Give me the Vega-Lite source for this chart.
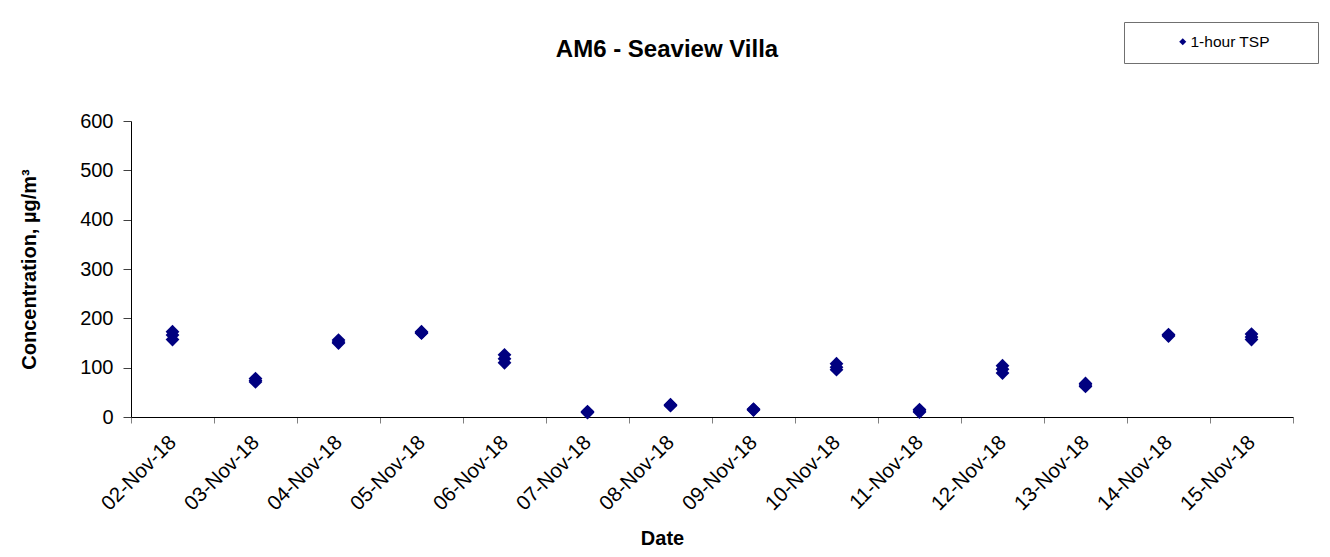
{
  "$schema": "https://vega.github.io/schema/vega-lite/v6.json",
  "autosize": {"type": "none"},
  "padding": {"left": 131, "top": 121, "right": 37, "bottom": 140},
  "width": 1162,
  "height": 296,
  "background": "white",
  "title": {
    "text": "AM6 - Seaview Villa",
    "anchor": "middle",
    "frame": "group",
    "dx": -45,
    "dy": 59,
    "baseline": "alphabetic",
    "offset": 0,
    "font": "Liberation Sans",
    "fontSize": 24,
    "fontWeight": "bold",
    "color": "#000000"
  },
  "data": {
    "values": [
      {"date": "02-Nov-18", "series": "1-hour TSP", "value": 173},
      {"date": "02-Nov-18", "series": "1-hour TSP", "value": 166},
      {"date": "02-Nov-18", "series": "1-hour TSP", "value": 157},
      {"date": "03-Nov-18", "series": "1-hour TSP", "value": 78},
      {"date": "03-Nov-18", "series": "1-hour TSP", "value": 74},
      {"date": "03-Nov-18", "series": "1-hour TSP", "value": 71},
      {"date": "04-Nov-18", "series": "1-hour TSP", "value": 156},
      {"date": "04-Nov-18", "series": "1-hour TSP", "value": 152},
      {"date": "04-Nov-18", "series": "1-hour TSP", "value": 150},
      {"date": "05-Nov-18", "series": "1-hour TSP", "value": 173},
      {"date": "05-Nov-18", "series": "1-hour TSP", "value": 171},
      {"date": "05-Nov-18", "series": "1-hour TSP", "value": 170},
      {"date": "06-Nov-18", "series": "1-hour TSP", "value": 126},
      {"date": "06-Nov-18", "series": "1-hour TSP", "value": 118},
      {"date": "06-Nov-18", "series": "1-hour TSP", "value": 110},
      {"date": "07-Nov-18", "series": "1-hour TSP", "value": 11},
      {"date": "07-Nov-18", "series": "1-hour TSP", "value": 10},
      {"date": "07-Nov-18", "series": "1-hour TSP", "value": 9},
      {"date": "08-Nov-18", "series": "1-hour TSP", "value": 25},
      {"date": "08-Nov-18", "series": "1-hour TSP", "value": 24},
      {"date": "08-Nov-18", "series": "1-hour TSP", "value": 23},
      {"date": "09-Nov-18", "series": "1-hour TSP", "value": 16},
      {"date": "09-Nov-18", "series": "1-hour TSP", "value": 15},
      {"date": "09-Nov-18", "series": "1-hour TSP", "value": 14},
      {"date": "10-Nov-18", "series": "1-hour TSP", "value": 108},
      {"date": "10-Nov-18", "series": "1-hour TSP", "value": 101},
      {"date": "10-Nov-18", "series": "1-hour TSP", "value": 96},
      {"date": "11-Nov-18", "series": "1-hour TSP", "value": 15},
      {"date": "11-Nov-18", "series": "1-hour TSP", "value": 12},
      {"date": "11-Nov-18", "series": "1-hour TSP", "value": 10},
      {"date": "12-Nov-18", "series": "1-hour TSP", "value": 104},
      {"date": "12-Nov-18", "series": "1-hour TSP", "value": 97},
      {"date": "12-Nov-18", "series": "1-hour TSP", "value": 89},
      {"date": "13-Nov-18", "series": "1-hour TSP", "value": 68},
      {"date": "13-Nov-18", "series": "1-hour TSP", "value": 65},
      {"date": "13-Nov-18", "series": "1-hour TSP", "value": 62},
      {"date": "14-Nov-18", "series": "1-hour TSP", "value": 167},
      {"date": "14-Nov-18", "series": "1-hour TSP", "value": 166},
      {"date": "14-Nov-18", "series": "1-hour TSP", "value": 164},
      {"date": "15-Nov-18", "series": "1-hour TSP", "value": 168},
      {"date": "15-Nov-18", "series": "1-hour TSP", "value": 162},
      {"date": "15-Nov-18", "series": "1-hour TSP", "value": 157}
    ]
  },
  "mark": {"type": "point", "shape": "diamond", "filled": true, "size": 190, "opacity": 1},
  "encoding": {
    "x": {
      "field": "date",
      "type": "nominal",
      "sort": null,
      "scale": {"type": "band", "paddingInner": 0, "paddingOuter": 0},
      "axis": {
        "title": "Date",
        "titleFont": "Liberation Sans",
        "titleFontSize": 20,
        "titleFontWeight": "bold",
        "titleColor": "#000000",
        "titleX": 531,
        "titleY": 127,
        "titleBaseline": "alphabetic",
        "titleAnchor": "middle",
        "labelAngle": -45,
        "labelAlign": "right",
        "labelBaseline": "middle",
        "labelPadding": 16,
        "labelFont": "Liberation Sans",
        "labelFontSize": 20.5,
        "labelColor": "#000000",
        "tickBand": "extent",
        "tickSize": 6,
        "tickColor": "#808080",
        "domainColor": "#000000",
        "grid": false
      }
    },
    "y": {
      "field": "value",
      "type": "quantitative",
      "scale": {"domain": [0, 600], "nice": false},
      "axis": {
        "title": "Concentration, µg/m³",
        "titleFont": "Liberation Sans",
        "titleFontSize": 20,
        "titleFontWeight": "bold",
        "titleColor": "#000000",
        "titlePadding": 40,
        "values": [0, 100, 200, 300, 400, 500, 600],
        "labelFont": "Liberation Sans",
        "labelFontSize": 20,
        "labelColor": "#000000",
        "labelPadding": 10,
        "tickSize": 8,
        "tickColor": "#404040",
        "domainColor": "#000000",
        "grid": false
      }
    },
    "color": {
      "field": "series",
      "type": "nominal",
      "scale": {"range": ["#000080"]},
      "legend": {
        "orient": "none",
        "legendX": 993,
        "legendY": -99,
        "title": null,
        "symbolType": "diamond",
        "symbolSize": 50,
        "symbolOffset": 39,
        "labelOffset": 0,
        "labelFont": "Liberation Sans",
        "labelFontSize": 15.5,
        "labelColor": "#000000",
        "labelExpr": "datum.label + '\u2800\u2800\u2800'",
        "padding": 12,
        "strokeColor": "#707070",
        "fillColor": "#ffffff"
      }
    },
    "shape": {
      "field": "series",
      "type": "nominal",
      "scale": {"range": ["diamond"]},
      "legend": null
    }
  },
  "config": {
    "view": {"stroke": null},
    "axis": {"domainWidth": 1}
  }
}
